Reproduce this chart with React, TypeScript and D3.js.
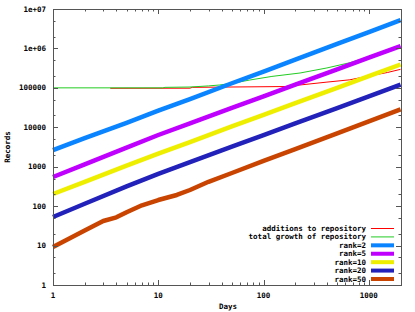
import React, { useEffect, useRef } from 'react';
import * as d3 from 'd3';

// days (x) for each series and record counts (y)
const additionsDays = [3.5, 20, 21, 160, 220, 400, 660, 1000, 1500, 2000];
const additionsValues = [97500, 98000, 103000, 108000, 118000, 140000, 160000, 200000, 245000, 295000];

const totalDays = [1, 11, 11.6, 20, 30, 38, 50, 74, 120, 222, 400, 661, 1140, 2000];
const totalValues = [100000, 100000, 103000, 105000, 112000, 118000, 130000, 158000, 195000, 238000, 320000, 435000, 680000, 1090000];

const rankDays = [1, 2, 5, 10, 20, 50, 100, 200, 500, 1000, 2000];
const rank2Values = [2650, 5300, 13000, 26500, 52000, 131000, 258000, 520000, 1300000, 2600000, 5200000];
const rank5Values = [548, 1150, 3050, 6370, 12600, 31000, 61000, 120000, 295000, 585000, 1150000];
const rank10Values = [203, 414, 1060, 2150, 4230, 10500, 20600, 40800, 100000, 199000, 391000];
const rank20Values = [53, 115, 317, 661, 1310, 3220, 6340, 12500, 30800, 60700, 120000];

const rank50Days = [1, 2, 3, 4, 5, 7, 10, 15, 20, 30, 50, 100, 200, 500, 1000, 2000];
const rank50Values = [9.2, 24, 42, 52, 70, 105, 143, 192, 257, 414, 693, 1400, 2800, 7040, 14100, 28400];

const seriesNames = [
  'additions to repository',
  'total growth of repository',
  'rank=2',
  'rank=5',
  'rank=10',
  'rank=20',
  'rank=50',
];
const seriesColors = ['#ff0000', '#22cc22', '#0a84ff', '#c000ff', '#eeee00', '#2222bb', '#c84400'];
const seriesWidths = [1, 1, 4.5, 4.5, 4.5, 4.5, 4.5];

const yTickLabels = ['1', '10', '100', '1000', '10000', '100000', '1e+06', '1e+07'];
const xTickLabels = ['1', '10', '100', '1000'];

const App = () => {
  const svgRef = useRef<SVGSVGElement>(null);

  useEffect(() => {
    const width = 415;
    const height = 312;
    const left = 53;
    const right = 401;
    const top = 9;
    const bottom = 285;
    const font = "'DejaVu Sans Mono', monospace";

    const svg = d3.select(svgRef.current);
    svg.selectAll('*').remove();
    svg.attr('width', width).attr('height', height);

    svg.append('rect').attr('width', width).attr('height', height).attr('fill', '#fff');

    const x = d3.scaleLog().domain([1, 2020]).range([left, right]);
    const y = d3.scaleLog().domain([1, 1e7]).range([bottom, top]);

    const series = [
      additionsDays.map((d, i) => [d, additionsValues[i]]),
      totalDays.map((d, i) => [d, totalValues[i]]),
      rankDays.map((d, i) => [d, rank2Values[i]]),
      rankDays.map((d, i) => [d, rank5Values[i]]),
      rankDays.map((d, i) => [d, rank10Values[i]]),
      rankDays.map((d, i) => [d, rank20Values[i]]),
      rank50Days.map((d, i) => [d, rank50Values[i]]),
    ];

    const line = d3
      .line<number[]>()
      .x(d => x(d[0]))
      .y(d => y(d[1]));

    const plot = svg.append('g');
    series.forEach((s, i) => {
      plot
        .append('path')
        .attr('d', line(s))
        .attr('fill', 'none')
        .attr('stroke', seriesColors[i])
        .attr('stroke-width', seriesWidths[i])
        .attr('stroke-linejoin', 'round');
    });

    // ticks on all four sides, pointing inward
    const axisColor = '#555';
    const ticks = svg.append('g').attr('stroke', axisColor).attr('stroke-width', 1);
    for (let e = 0; e <= 3; e++) {
      for (let m = 1; m <= 9; m++) {
        const v = m * Math.pow(10, e);
        if (v > 2020) continue;
        const px = Math.round(x(v)) + 0.5;
        const len = m === 1 ? 5 : 2.5;
        ticks.append('line').attr('x1', px).attr('x2', px).attr('y1', bottom).attr('y2', bottom - len);
        ticks.append('line').attr('x1', px).attr('x2', px).attr('y1', top).attr('y2', top + len);
      }
    }
    for (let e = 0; e <= 7; e++) {
      [1, 2, 5].forEach(m => {
        const v = m * Math.pow(10, e);
        if (v > 1e7) return;
        const py = Math.round(y(v)) + 0.5;
        const len = m === 1 ? 5 : 2.5;
        ticks.append('line').attr('x1', left).attr('x2', left + len).attr('y1', py).attr('y2', py);
        ticks.append('line').attr('x1', right).attr('x2', right - len).attr('y1', py).attr('y2', py);
      });
    }

    svg
      .append('rect')
      .attr('x', left + 0.5)
      .attr('y', top + 0.5)
      .attr('width', right - left)
      .attr('height', bottom - top)
      .attr('fill', 'none')
      .attr('stroke', axisColor)
      .attr('stroke-width', 1);

    const text = svg
      .append('g')
      .attr('font-family', font)
      .attr('font-size', 7.5)
      .attr('font-weight', 'bold')
      .attr('fill', '#000');

    yTickLabels.forEach((t, i) => {
      text
        .append('text')
        .attr('x', 46)
        .attr('y', y(Math.pow(10, i)) + 2.5)
        .attr('text-anchor', 'end')
        .text(t);
    });
    xTickLabels.forEach((t, i) => {
      text
        .append('text')
        .attr('x', x(Math.pow(10, i)))
        .attr('y', 298)
        .attr('text-anchor', 'middle')
        .text(t);
    });

    text.append('text').attr('x', 228).attr('y', 309).attr('text-anchor', 'middle').text('Days');
    text
      .append('text')
      .attr('transform', 'translate(10, 147) rotate(-90)')
      .attr('text-anchor', 'middle')
      .text('Records');

    // legend
    const legendRowY = d3.scaleLinear().domain([0, 6]).range([228.5, 279]);
    seriesNames.forEach((name, i) => {
      const ly = legendRowY(i);
      text
        .append('text')
        .attr('x', 366)
        .attr('y', ly + 2.5)
        .attr('text-anchor', 'end')
        .text(name);
      svg
        .append('line')
        .attr('x1', 371)
        .attr('x2', 394)
        .attr('y1', ly)
        .attr('y2', ly)
        .attr('stroke', seriesColors[i])
        .attr('stroke-width', i < 2 ? 1 : 4);
    });
  }, []);

  return (
    <div style={{ position: 'absolute', left: 0, top: 0 }}>
      <svg ref={svgRef} style={{ display: 'block' }}></svg>
    </div>
  );
};

export default App;
